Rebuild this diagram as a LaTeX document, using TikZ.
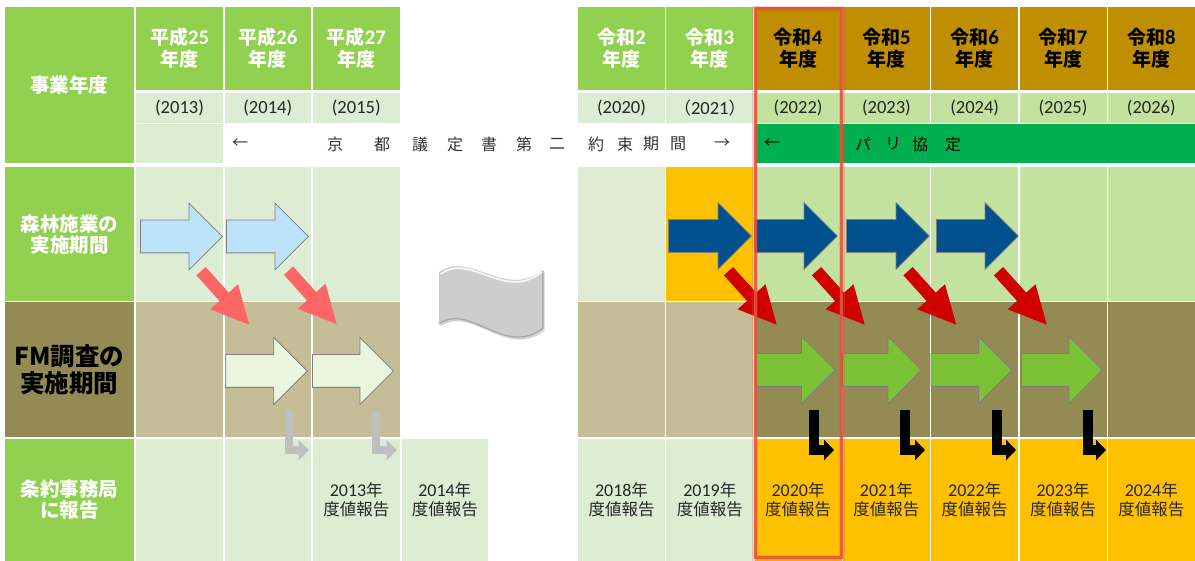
\documentclass[tikz,border=0pt]{standalone}
\usepackage{fontspec}
\setmainfont{Noto Sans CJK JP}
\newfontfamily\lat[Scale=1.09]{Carlito}
\usetikzlibrary{shapes.arrows,arrows.meta,shadows}
\definecolor{hgreen}{HTML}{92D050}
\definecolor{lgreen}{HTML}{DCEDD4}
\definecolor{lgreenb}{HTML}{DEEAD1}
\definecolor{mgreen}{HTML}{C4E29F}
\definecolor{gold}{HTML}{BF8F00}
\definecolor{amber}{HTML}{FFC000}
\definecolor{tan}{HTML}{C4BD97}
\definecolor{olivedk}{HTML}{948A54}
\definecolor{band}{HTML}{00B050}
\definecolor{lblue}{HTML}{BDE3FB}
\definecolor{dblue}{HTML}{00518E}
\definecolor{pale}{HTML}{EAF5DD}
\definecolor{salmon}{HTML}{FF6565}
\definecolor{dred}{HTML}{D00000}
\definecolor{fgreen}{HTML}{7DC136}
\definecolor{txt}{HTML}{262626}
\definecolor{pertxt}{HTML}{333333}
\definecolor{hlred}{HTML}{E2533F}
\definecolor{wavegray}{HTML}{CDCDCD}
\definecolor{waveedge}{HTML}{A6A6A6}
\definecolor{arrline}{HTML}{7F7F7F}
\definecolor{lgrayc}{HTML}{BFBFBF}
\newcommand\mkcell[7]{\node[cell,#6,minimum width={#4-#2},minimum height={#5-#3}] (#1) at ({(#2+#4)/2},{(#3+#5)/2}) {#7};}
\begin{document}
\begin{tikzpicture}[x=1pt,y=-1pt,
  cell/.style={rectangle,inner sep=0pt,outer sep=0pt,align=center},
  hdr/.style={font=\fontsize{19}{22}\selectfont\bfseries},
  yr/.style={font=\lat\fontsize{17}{20}\selectfont,text=txt},
  lab/.style={font=\fontsize{19.5}{21}\selectfont\bfseries,text=white},
  labfm/.style={font=\fontsize{24.5}{27}\selectfont\bfseries,text=black},
  rep/.style={font=\fontsize{16.5}{19}\selectfont,text=txt},
  per/.style={font=\fontsize{16}{16}\selectfont,text=pertxt,inner sep=0pt},
  blk/.style={single arrow,single arrow tip angle=90,single arrow head extend=17pt,
    inner xsep=0pt,inner ysep=16pt,anchor=tail,line width=0.8pt,draw=arrline},
  lbarrow/.style={blk,fill=lblue},
  dbarrow/.style={blk,fill=dblue},
  pgarrow/.style={blk,fill=pale},
  fgarrow/.style={blk,fill=fgreen},
  diag/.style={single arrow,single arrow tip angle=53,single arrow head extend=12.5pt,
    inner xsep=0pt,inner ysep=6pt,minimum height=72pt,anchor=tip,rotate=-48,draw=none},
  sarrow/.style={diag,fill=salmon},
  rarrow/.style={diag,fill=dred},
  lgray/.style={draw=lgrayc,line width=8.5pt,-{Triangle[width=20pt,length=10.5pt]}},
  lblack/.style={draw=black,line width=10pt,-{Triangle[width=20pt,length=10pt]}}]
\useasboundingbox (0,0) rectangle (1195,561);
% label column
\mkcell{lab0}{5}{7}{134}{163}{fill=hgreen,lab}{事業年度}
\mkcell{lab1}{5}{167.5}{134}{301}{fill=hgreen,lab}{森林施業の\\実施期間}
\mkcell{lab2}{5}{302.5}{134}{437}{fill=olivedk,labfm}{FM調査の\\実施期間}
\mkcell{lab3}{5}{439}{134}{561}{fill=hgreen,lab}{条約事務局\\に報告}
% left columns
\mkcell{h25}{136}{7}{223}{90}{fill=hgreen,text=white,hdr}{平成{\lat 25}\\年度}
\mkcell{h26}{224.5}{7}{311}{90}{fill=hgreen,text=white,hdr}{平成{\lat 26}\\年度}
\mkcell{h27}{312.5}{7}{400}{90}{fill=hgreen,text=white,hdr}{平成{\lat 27}\\年度}
\mkcell{y13}{136}{93.5}{223}{123}{fill=lgreen,yr}{(2013)}
\mkcell{y14}{224.5}{93.5}{311}{123}{fill=lgreen,yr}{(2014)}
\mkcell{y15}{312.5}{93.5}{400}{123}{fill=lgreen,yr}{(2015)}
\mkcell{p25}{136}{124.5}{223}{163}{fill=lgreen}{}
\mkcell{f25}{136}{167.5}{223}{301}{fill=lgreen}{}
\mkcell{f26}{224.5}{167.5}{311}{301}{fill=lgreen}{}
\mkcell{f27}{312.5}{167.5}{400}{301}{fill=lgreen}{}
\mkcell{m25}{136}{302.5}{223}{437}{fill=tan}{}
\mkcell{m26}{224.5}{302.5}{311}{437}{fill=tan}{}
\mkcell{m27}{312.5}{302.5}{400}{437}{fill=tan}{}
\mkcell{r25}{136}{439}{223}{561}{fill=lgreen,rep}{}
\mkcell{r26}{224.5}{439}{311}{561}{fill=lgreen,rep}{}
\mkcell{r27}{312.5}{439}{400}{561}{fill=lgreen,rep}{{\lat 2013}年\\度値報告}
\mkcell{r28}{401.5}{439}{488}{561}{fill=lgreen,rep}{{\lat 2014}年\\度値報告}
% right columns
\foreach \i/\n/\cH/\cT/\cY/\cF/\cM/\cR in {
  0/2/hgreen/white/lgreen/lgreenb/tan/lgreen,
  1/3/hgreen/white/lgreen/amber/tan/lgreen,
  2/4/gold/black/mgreen/mgreen/olivedk/amber,
  3/5/gold/black/mgreen/mgreen/olivedk/amber,
  4/6/gold/black/mgreen/mgreen/olivedk/amber,
  5/7/gold/black/mgreen/mgreen/olivedk/amber,
  6/8/gold/black/mgreen/mgreen/olivedk/amber}{
  \pgfmathsetmacro\xa{578+88.3*\i}
  \pgfmathsetmacro\xb{\xa+87}
  \pgfmathtruncatemacro\yv{2020+\i}
  \pgfmathtruncatemacro\rv{2018+\i}
  \mkcell{rh\n}{\xa}{7}{\xb}{90}{fill=\cH,text=\cT,hdr}{令和{\lat\n}\\年度}
  \mkcell{ry\n}{\xa}{93.5}{\xb}{123}{fill=\cY,yr}{\ifnum\i=1 {\rmfamily （}\yv{\rmfamily ）}\else(\yv)\fi}
  \mkcell{rf\n}{\xa}{167.5}{\xb}{301}{fill=\cF}{}
  \mkcell{rm\n}{\xa}{302.5}{\xb}{437}{fill=\cM}{}
  \mkcell{rr\n}{\xa}{439}{\xb}{561}{fill=\cR,rep}{{\lat\rv}年\\度値報告}
}
% period row
\mkcell{band}{754.6}{124.5}{1195}{163}{fill=band}{}
\foreach \x/\c [count=\k] in {240/←,335/京,382/都,420/議,455/定,489/書,524/第,557/二,596/約,625/束,651/期,678/間,722/→}
  \node[per] (kp\k) at (\x,144) {\c};
\foreach \x/\c [count=\k] in {772/←,863/パ,893/リ,920/協,953/定}
  \node[per,text=black] (pp\k) at (\x,144) {\c};
% wave (omission mark)
\fill[wavegray,drop shadow={shadow xshift=1.5pt,shadow yshift=-2.5pt,opacity=0.35}]
  (439,272) .. controls (470,250) and (505,300) .. (543,270) -- (543,328)
  .. controls (505,358) and (470,302) .. (439,324) -- cycle;
\draw[waveedge,line width=1.2pt] (543,271) -- (543,328)
  .. controls (505,358) and (470,302) .. (439,324);
\draw[white,opacity=0.85,line width=1.8pt] (440.5,274) .. controls (470,252) and (505,302) .. (541.5,272);
% forest period arrows
\node[lbarrow,minimum height=82pt] (fa1) at (140,236.5) {};
\node[lbarrow,minimum height=82pt] (fa2) at (226,236.5) {};
\node[dbarrow,minimum height=83pt] (fb1) at (668,236) {};
\node[dbarrow,minimum height=83pt] (fb2) at (754,236) {};
\node[dbarrow,minimum height=83pt] (fb3) at (846,236) {};
\node[dbarrow,minimum height=82pt] (fb4) at (936,236) {};
% FM arrows
\node[pgarrow,minimum height=81.5pt] (ma1) at (225.3,371) {};
\node[pgarrow,minimum height=81pt] (ma2) at (312,371) {};
\node[fgarrow,minimum height=79pt] (mb1) at (755.5,370) {};
\node[fgarrow,minimum height=79pt] (mb2) at (842,370) {};
\node[fgarrow,minimum height=81pt] (mb3) at (930.6,370) {};
\node[fgarrow,minimum height=81pt] (mb4) at (1021,370) {};
% diagonal arrows
\node[sarrow] (sa1) at (249.5,325) {};
\node[sarrow] (sa2) at (337,324.5) {};
\node[rarrow] (ra1) at (777,325) {};
\node[rarrow] (ra2) at (865,325) {};
\node[rarrow] (ra3) at (956.5,325) {};
\node[rarrow] (ra4) at (1047,325) {};
% report arrows
\coordinate (g1a) at (289,410); \coordinate (g1b) at (309,450);
\coordinate (g2a) at (376,410); \coordinate (g2b) at (397,450);
\draw[lgray] (g1a) |- (g1b);
\draw[lgray] (g2a) |- (g2b);
\foreach \x/\t [count=\k] in {814.3/834,905/925,997/1016,1088/1106}{
  \coordinate (b\k a) at (\x,410); \coordinate (b\k b) at (\t,450);
  \draw[lblack] (b\k a) |- (b\k b);
}
% highlight of the current year
\draw[hlred,line width=6pt,opacity=0.25] (755.2,9) rectangle (841.8,557.5);
\draw[hlred,line width=3pt,opacity=0.85] (755.2,9) rectangle (841.8,557.5);
\end{tikzpicture}
\end{document}
